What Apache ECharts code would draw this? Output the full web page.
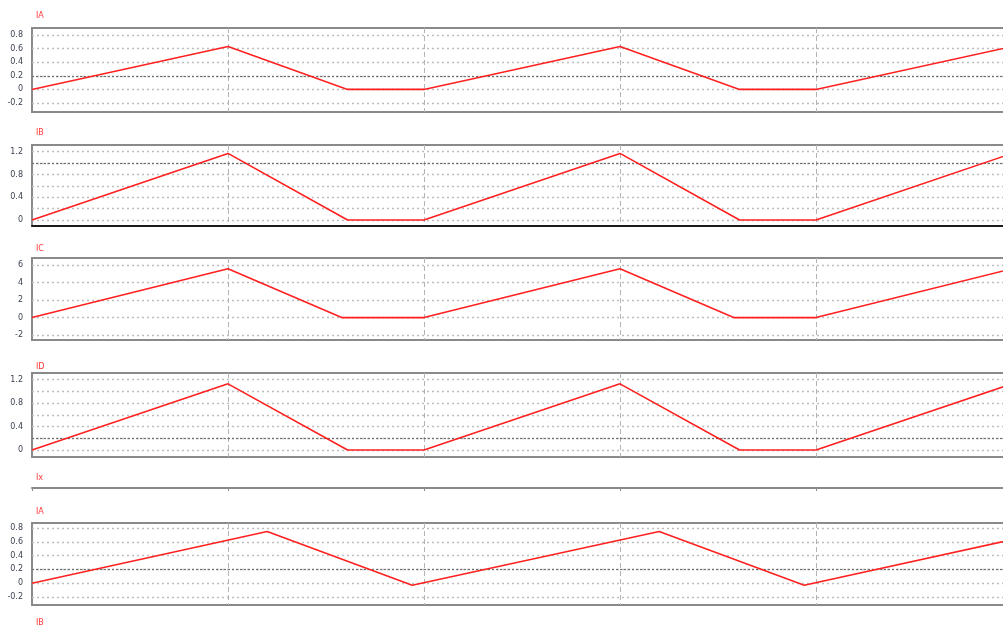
<!DOCTYPE html>
<html>
<head>
<meta charset="utf-8">
<title>IA IB IC ID</title>
<script src="https://cdn.jsdelivr.net/npm/echarts@6/dist/echarts.min.js"></script>
<style>
  html, body { margin: 0; padding: 0; background: #fff; }
  #chart { width: 1003px; height: 625px; }
</style>
</head>
<body>
<div id="chart"></div>
<script>
// Time axis: one unit per vertical grid division
const timeIA = [0, 1, 1.61, 2, 3, 3.61, 4, 5];
const valIA  = [0, 0.63, 0, 0, 0.63, 0, 0, 0.63];

const timeIB = [0, 1, 1.61, 2, 3, 3.61, 4, 5];
const valIB  = [0, 1.17, 0, 0, 1.17, 0, 0, 1.17];

const timeIC = [0, 1, 1.58, 2, 3, 3.58, 4, 5];
const valIC  = [0, 5.6, 0, 0, 5.6, 0, 0, 5.6];

const timeID = [0, 1, 1.61, 2, 3, 3.61, 4, 5];
const valID  = [0, 1.13, 0, 0, 1.13, 0, 0, 1.13];

const timeIA2 = [0, 1.2, 1.94, 3.2, 3.94, 5];
const valIA2  = [0, 0.75, -0.03, 0.75, -0.03, 0.63];

// Tick labels shown on each value axis
const ticksIA = [-0.2, 0, 0.2, 0.4, 0.6, 0.8];
const ticksIB = [0, 0.4, 0.8, 1.2];
const ticksIC = [-2, 0, 2, 4, 6];
const ticksID = [0, 0.4, 0.8, 1.2];

const titles = ['IA', 'IB', 'IC', 'ID', 'Ix', 'IA', 'IB'];

const panels = [
  { name: 'IA', t: timeIA,  v: valIA,  ticks: ticksIA, top: 28,  height: 84, min: -0.332, max: 0.903, step: 0.2, dark: 0.2 },
  { name: 'IB', t: timeIB,  v: valIB,  ticks: ticksIB, top: 145, height: 81, min: -0.105, max: 1.318, step: 0.2, dark: 1.0, blackBase: true },
  { name: 'IC', t: timeIC,  v: valIC,  ticks: ticksIC, top: 258, height: 82, min: -2.57,  max: 6.83,  step: 2,   dark: null },
  { name: 'ID', t: timeID,  v: valID,  ticks: ticksID, top: 373, height: 84, min: -0.12,  max: 1.315, step: 0.2, dark: 0.2 },
  { name: 'IA', t: timeIA2, v: valIA2, ticks: ticksIA, top: 523, height: 82, min: -0.316, max: 0.872, step: 0.2, dark: 0.2 }
];
const titleTops = [7, 124, 240, 358, 469, 503, 614];

// Plot area runs a little past the right edge of the page
const GRID_LEFT = 32;
const GRID_WIDTH = 980;

const grids = [], xAxes = [], yAxes = [], series = [];

function fmtTick(list) {
  return function (v) {
    for (const t of list) {
      if (Math.abs(v - t) < 1e-6) return String(t);
    }
    return '';
  };
}

panels.forEach((p, i) => {
  grids.push({
    left: GRID_LEFT, width: GRID_WIDTH, top: p.top, height: p.height,
    outerBoundsMode: 'none', containLabel: false,
    show: true, borderColor: '#8a8a8a', borderWidth: 2, backgroundColor: '#fff'
  });
  xAxes.push({
    type: 'value', gridIndex: i, min: 0, max: 5, interval: 1,
    axisLine: p.blackBase
      ? { show: true, onZero: false, lineStyle: { color: '#1a1a1a', width: 2 } }
      : { show: false },
    axisTick: { show: false },
    axisLabel: { show: false },
    splitLine: {
      show: true, showMinLine: false, showMaxLine: false,
      lineStyle: { color: '#b4b4b4', width: 1, type: [5, 3] }
    }
  });
  yAxes.push({
    type: 'value', gridIndex: i, min: p.min, max: p.max,
    splitNumber: 6, minInterval: p.step, maxInterval: p.step,
    axisLine: { show: false },
    axisTick: { show: false },
    axisLabel: {
      show: true, margin: 9, fontSize: 8, color: '#3a4250',
      fontFamily: 'DejaVu Sans', formatter: fmtTick(p.ticks)
    },
    splitLine: {
      show: true, showMinLine: false, showMaxLine: false,
      lineStyle: { color: '#bdbdbd', width: 1.3, type: [2, 3] }
    }
  });
  const s = {
    type: 'line', xAxisIndex: i, yAxisIndex: i, name: p.name,
    data: p.t.map((t, k) => [t, p.v[k]]),
    showSymbol: false, symbol: 'none',
    lineStyle: { color: '#ff2020', width: 1.6 },
    silent: true, z: 5
  };
  if (p.dark !== null) {
    s.markLine = {
      silent: true, symbol: 'none', label: { show: false },
      lineStyle: { color: '#6e6e6e', width: 1.2, type: [2, 2] },
      emphasis: { disabled: true },
      data: [{ yAxis: p.dark }]
    };
  }
  series.push(s);
});

// Collapsed Ix strip: only its top edge with division ticks
const ixIndex = grids.length;
grids.push({
  left: GRID_LEFT, width: GRID_WIDTH, top: 488, height: 10,
  outerBoundsMode: 'none', containLabel: false, show: false
});
xAxes.push({
  type: 'value', gridIndex: ixIndex, min: 0, max: 5, interval: 1, position: 'top',
  axisLine: { show: true, onZero: false, lineStyle: { color: '#8a8a8a', width: 2 } },
  axisTick: { show: true, inside: true, length: 3, lineStyle: { color: '#8a8a8a', width: 1 } },
  axisLabel: { show: false },
  splitLine: { show: false }
});
yAxes.push({
  type: 'value', gridIndex: ixIndex, min: 0, max: 1, show: false
});
series.push({ type: 'line', xAxisIndex: ixIndex, yAxisIndex: ixIndex, data: [], silent: true });

const chart = echarts.init(document.getElementById('chart'), null, { renderer: 'canvas' });
chart.setOption({
  animation: false,
  backgroundColor: '#fff',
  title: titles.map((t, i) => ({
    text: t, left: 31, top: titleTops[i],
    textStyle: { fontSize: 8, fontWeight: 'normal', color: '#ff3a3a', fontFamily: 'DejaVu Sans' }
  })),
  grid: grids,
  xAxis: xAxes,
  yAxis: yAxes,
  series: series
});
</script>
</body>
</html>
